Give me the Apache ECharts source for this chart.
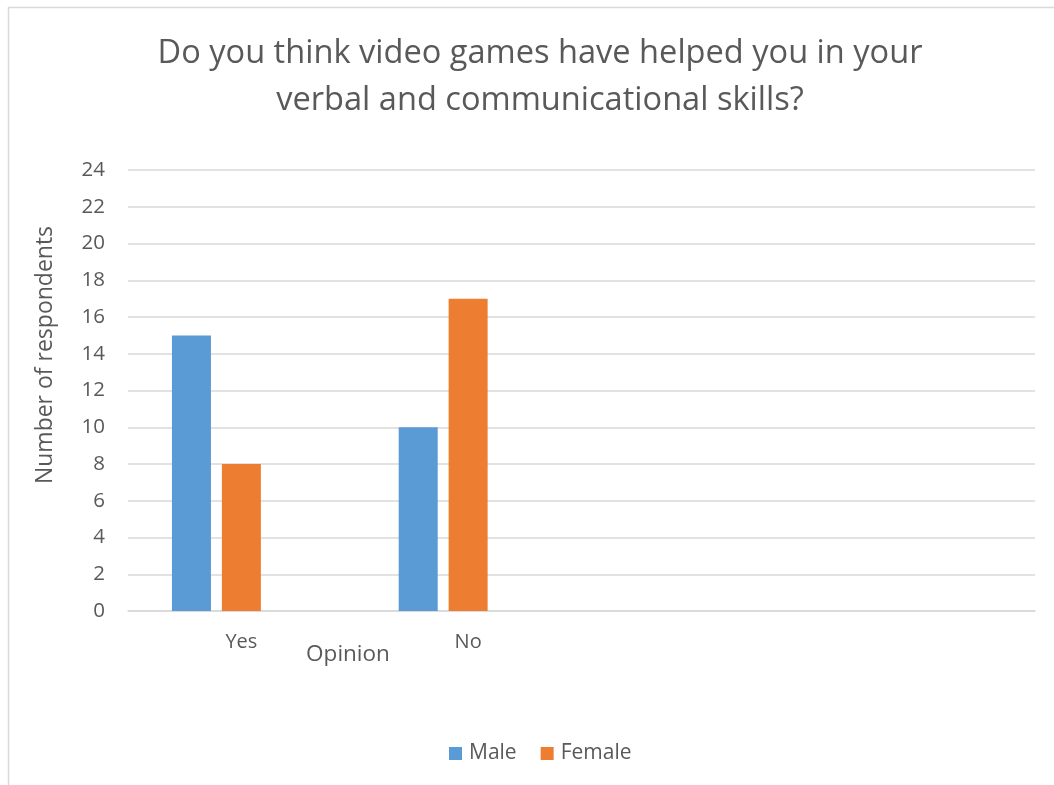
<!DOCTYPE html>
<html>
<head>
<meta charset="utf-8">
<script src="https://cdn.jsdelivr.net/npm/echarts@6/dist/echarts.min.js"></script>
<style>
  html, body { margin: 0; padding: 0; background: #fff; }
  #chart { width: 1054px; height: 785px; }
</style>
</head>
<body>
<div id="chart"></div>
<script>
// Survey answers by gender
const categories = ['Yes', 'No', '', ''];
const maleCounts = [15, 10, null, null];
const femaleCounts = [8, 17, null, null];
const spareCounts = [null, null, null, null];
const yTicks = { min: 0, max: 24, interval: 2 };

const FONT = 'Open Sans, Liberation Sans, sans-serif';
const TEXT = '#595959';

const chart = echarts.init(document.getElementById('chart'));
chart.setOption({
  backgroundColor: '#fff',
  animation: false,
  textStyle: { fontFamily: FONT, color: TEXT },
  title: {
    text: 'Do you think video games have helped you in your\nverbal and communicational skills?',
    left: 535,
    top: 25,
    textAlign: 'center',
    textStyle: { fontFamily: FONT, fontSize: 32.6, fontWeight: 'normal', color: TEXT, lineHeight: 47 }
  },
  legend: {
    data: ['Male', 'Female'],
    left: 449,
    top: 743,
    padding: 0,
    itemWidth: 13,
    itemHeight: 13,
    itemGap: 24,
    icon: 'rect',
    textStyle: { fontFamily: FONT, fontSize: 21, color: TEXT, padding: [0, 0, 0, 2] }
  },
  grid: { left: 128, right: 19, top: 170, bottom: 174, containLabel: false },
  xAxis: {
    type: 'category',
    data: categories,
    axisLine: { lineStyle: { color: '#d9d9d9', width: 1.5 } },
    axisTick: { show: false },
    axisLabel: { fontFamily: FONT, fontSize: 20, color: TEXT, margin: 21 }
  },
  yAxis: {
    type: 'value',
    min: yTicks.min,
    max: yTicks.max,
    interval: yTicks.interval,
    axisLine: { show: false },
    axisTick: { show: false },
    axisLabel: { fontFamily: FONT, fontSize: 20.5, color: TEXT, margin: 23 },
    splitLine: { lineStyle: { color: '#d9d9d9', width: 1.5 } }
  },
  series: [
    { name: 'Male', type: 'bar', data: maleCounts, barWidth: 39, barGap: '28%', itemStyle: { color: '#5B9BD5' } },
    { name: 'Female', type: 'bar', data: femaleCounts, barWidth: 39, barGap: '28%', itemStyle: { color: '#ED7D31' } },
    { name: 'Spare', type: 'bar', data: spareCounts, barWidth: 39, barGap: '28%', itemStyle: { color: '#A5A5A5' } }
  ],
  graphic: [
    { type: 'rect', shape: { x: 8.5, y: 7.5, width: 1100, height: 900 }, style: { fill: 'none', stroke: '#d9d9d9', lineWidth: 1.5 }, silent: true },
    { type: 'text', x: 348, y: 655, style: { text: 'Opinion', fontFamily: FONT, fontSize: 22.5, fill: TEXT, align: 'center', verticalAlign: 'middle' } },
    { type: 'text', x: 45, y: 355, rotation: Math.PI / 2, style: { text: 'Number of respondents', fontFamily: FONT, fontSize: 23, fill: TEXT, align: 'center', verticalAlign: 'middle' } }
  ]
});
</script>
</body>
</html>
